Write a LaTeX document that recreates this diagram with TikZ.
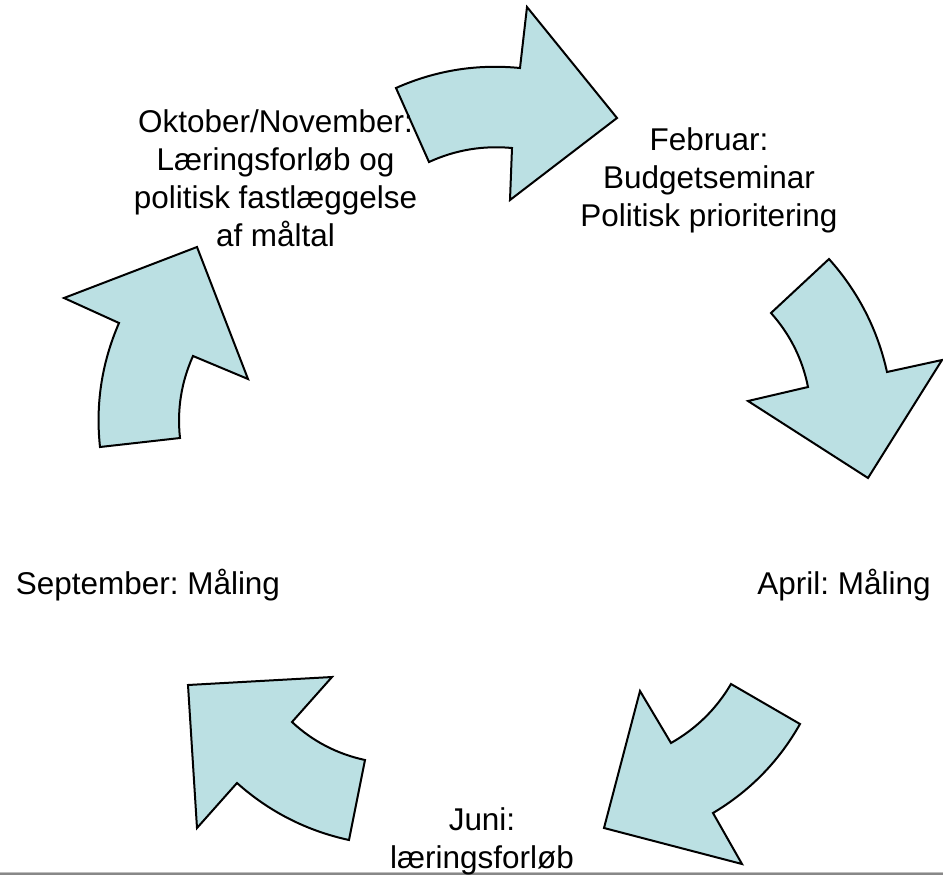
\documentclass[tikz,border=0pt]{standalone}
\usepackage{fontspec}
\setmainfont{Liberation Sans}
\usepackage{tikz}

\tikzset{
  cyclearrow/.style={draw=black, line width=1.5pt, line join=miter, fill={rgb, 255:red, 187; green, 224; blue, 227 }, fill opacity=1},
  lbl/.style={inner sep=0pt, align=center, font=\fontsize{23.6}{28.6}\selectfont},
}

\begin{document}
\frenchspacing
\begin{tikzpicture}[x=0.75pt,y=0.75pt,yscale=-1,xscale=1]
\useasboundingbox (0,0) rectangle (943,875);

%Shape: Curved Arrow [top, right]
\draw  [cyclearrow] (396,88) .. controls (435.5,70.4) and (476.9,63.8) .. (520,68) -- (527,7) -- (617,118) -- (510,200) -- (512,148) .. controls (483,145.3) and (455.4,149.9) .. (429,162) -- cycle ;
%Shape: Curved Arrow [right, down]
\draw  [cyclearrow] (829,259) .. controls (858.1,291.6) and (877.5,329.2) .. (887,372) -- (942,360) -- (868,478) -- (748,401) -- (808,387) .. controls (802.4,358.9) and (790,334.3) .. (771,313) -- cycle ;
%Shape: Curved Arrow [bottom right, down left]
\draw  [cyclearrow] (731,684) -- (800,724) .. controls (778.9,761.4) and (749.9,791) .. (713,813) -- (742,864) -- (604,828) -- (640,691) -- (671,743) .. controls (696.3,728.6) and (716.3,709) .. (731,684) -- cycle ;
%Shape: Curved Arrow [bottom left, up left]
\draw  [cyclearrow] (365,760) -- (349,840) .. controls (306.7,830.8) and (269.3,811.8) .. (237,783) -- (197,828) -- (188,685) -- (332,677) -- (292,722) .. controls (312.8,741.4) and (337.2,754) .. (365,760) -- cycle ;
%Shape: Curved Arrow [left, up]
\draw  [cyclearrow] (100,447) -- (180,438) .. controls (176.9,409.5) and (181.3,382.1) .. (193,356) -- (248,379) -- (197,247) -- (64,298) -- (119,323) .. controls (101.8,362.6) and (95.4,404) .. (100,447) -- cycle ;

%Shape: Rectangle [bottom rule]
\fill  [fill={rgb, 255:red, 190; green, 190; blue, 190 }] (0,872) rectangle (943,873) ;
\fill  [fill={rgb, 255:red, 136; green, 136; blue, 136 }] (0,873) rectangle (943,875) ;

% Text Node
\node [lbl, anchor=north] (oktober) at (275.5,109) {Oktober/November:\\Læringsforløb og\\politisk fastlæggelse\\af måltal};
% Text Node
\node [lbl, anchor=north] (februar) at (709,127) {Februar:\\Budgetseminar\\Politisk prioritering};
% Text Node
\node [lbl, anchor=base] (april) at (844,594) {April: Måling};
% Text Node
\node [lbl, anchor=north] (juni) at (482,807) {Juni:\\læringsforløb};
% Text Node
\node [lbl, anchor=base] (september) at (148,594) {September: Måling};

\end{tikzpicture}
\end{document}
